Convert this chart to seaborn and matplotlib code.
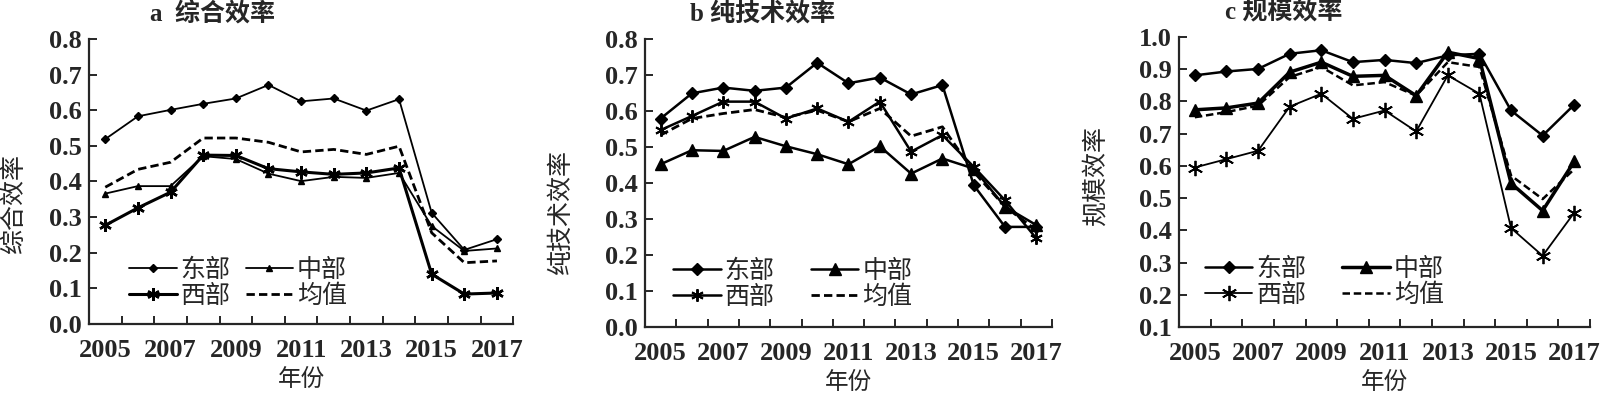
import numpy as np
import pandas as pd
import seaborn as sns
import matplotlib.pyplot as plt

years = [2005, 2006, 2007, 2008, 2009, 2010, 2011, 2012, 2013, 2014, 2015, 2016, 2017]
regions = ["东部", "中部", "西部", "均值"]

# a 综合效率
te_east = [0.519, 0.583, 0.601, 0.618, 0.633, 0.671, 0.625, 0.633, 0.599, 0.631, 0.312, 0.208, 0.238]
te_mid = [0.366, 0.387, 0.387, 0.471, 0.463, 0.422, 0.401, 0.413, 0.410, 0.424, 0.275, 0.205, 0.212]
te_west = [0.277, 0.326, 0.370, 0.474, 0.473, 0.436, 0.427, 0.420, 0.424, 0.438, 0.140, 0.084, 0.087]
te_mean = [0.384, 0.434, 0.454, 0.522, 0.522, 0.510, 0.483, 0.490, 0.476, 0.499, 0.256, 0.172, 0.177]

# b 纯技术效率
pte_east = [0.579, 0.649, 0.665, 0.656, 0.665, 0.734, 0.677, 0.693, 0.646, 0.672, 0.394, 0.278, 0.278]
pte_mid = [0.452, 0.491, 0.489, 0.528, 0.502, 0.480, 0.452, 0.502, 0.426, 0.468, 0.440, 0.334, 0.283]
pte_west = [0.547, 0.586, 0.626, 0.626, 0.579, 0.607, 0.570, 0.626, 0.487, 0.533, 0.445, 0.352, 0.246]
pte_mean = [0.533, 0.579, 0.593, 0.604, 0.582, 0.602, 0.570, 0.607, 0.530, 0.556, 0.431, 0.334, 0.269]

# c 规模效率
se_east = [0.881, 0.893, 0.901, 0.948, 0.959, 0.922, 0.929, 0.919, 0.943, 0.948, 0.772, 0.694, 0.790]
se_mid = [0.774, 0.780, 0.795, 0.891, 0.922, 0.878, 0.881, 0.818, 0.953, 0.933, 0.546, 0.461, 0.614]
se_west = [0.595, 0.621, 0.647, 0.784, 0.824, 0.746, 0.772, 0.707, 0.881, 0.824, 0.407, 0.321, 0.455]
se_mean = [0.751, 0.767, 0.787, 0.876, 0.907, 0.850, 0.860, 0.818, 0.922, 0.907, 0.570, 0.497, 0.590]

sns.set_style("ticks")
plt.rcParams["font.family"] = ["Liberation Serif", "Noto Sans CJK SC"]
plt.rcParams["axes.linewidth"] = 1.6

STAR = (6, 2, 0)
DASH = (0, (3, 1.5))

panels = [
    dict(title="a  综合效率", ylabel="综合效率", series=[te_east, te_mid, te_west, te_mean],
         rect=[0.0556, 0.1756, 0.2652, 0.7252], ylim=(0.0, 0.8), yticks=np.arange(0, 0.81, 0.1),
         styles=[dict(marker="D", ms=4, lw=1.3), dict(marker="^", ms=5, lw=1.3),
                 dict(marker=STAR, ms=9, lw=2.2, mew=1.8), dict(marker=None, lw=2.0, ls=DASH)],
         title_x=0.29, leg=(0.095, 0.23), colsp=0.6, ylab_x=-0.148, ylab_y=0.42),
    dict(title="b 纯技术效率", ylabel="纯技术效率", series=[pte_east, pte_mid, pte_west, pte_mean],
         rect=[0.4031, 0.168, 0.2544, 0.7328], ylim=(0.0, 0.8), yticks=np.arange(0, 0.81, 0.1),
         styles=[dict(marker="D", ms=6, lw=1.8), dict(marker="^", ms=9, lw=1.8),
                 dict(marker=STAR, ms=9, lw=1.8, mew=1.4), dict(marker=None, lw=2.0, ls=DASH)],
         title_x=0.29, leg=(0.07, 0.235), colsp=1.45, ylab_x=-0.177, ylab_y=0.4),
    dict(title="c 规模效率", ylabel="规模效率", series=[se_east, se_mid, se_west, se_mean],
         rect=[0.7369, 0.168, 0.2569, 0.7378], ylim=(0.1, 1.0), yticks=np.arange(0.1, 1.01, 0.1),
         styles=[dict(marker="D", ms=6, lw=1.8), dict(marker="^", ms=8, lw=2.5),
                 dict(marker=STAR, ms=11, lw=1.3, mew=1.3), dict(marker=None, lw=1.8, ls=DASH)],
         title_x=0.255, leg=(0.063, 0.24), colsp=1.45, ylab_x=-0.173, ylab_y=0.52),
]

fig = plt.figure(figsize=(16, 3.93), dpi=100)
x = np.arange(len(years))

for p in panels:
    ax = fig.add_axes(p["rect"])
    for name, vals, st in zip(regions, p["series"], p["styles"]):
        sns.lineplot(x=x, y=vals, ax=ax, color="black", label=name,
                     marker=st.get("marker"), markersize=st.get("ms", 0),
                     linewidth=st["lw"], linestyle=st.get("ls", "-"),
                     markeredgewidth=st.get("mew", 1.0), markeredgecolor="black")
    ax.set_xlim(-0.5, len(years) - 0.5)
    ax.set_ylim(*p["ylim"])
    ax.set_yticks(p["yticks"])
    ax.set_yticklabels([f"{v:.1f}" for v in p["yticks"]], fontweight="bold")
    # tick marks between categories, labels at every other year
    ax.set_xticks(np.arange(-0.5, len(years), 1.0))
    ax.set_xticklabels([])
    ax.set_xticks(x[::2], minor=True)
    ax.set_xticklabels([str(y) for y in years[::2]], minor=True, fontweight="bold")
    ax.tick_params(axis="x", which="major", direction="in", length=6, width=1.4)
    ax.tick_params(axis="x", which="minor", length=0, labelsize=19, pad=11)
    ax.tick_params(axis="y", direction="in", length=6, width=1.4, labelsize=19, pad=5)
    sns.despine(ax=ax)
    ax.set_xlabel("年份", fontsize=17, labelpad=5)
    ax.set_ylabel(p["ylabel"], fontsize=18)
    ax.yaxis.set_label_coords(p["ylab_x"], p["ylab_y"])
    ax.text(p["title_x"], 1.085, p["title"], transform=ax.transAxes, ha="center", va="center",
            fontsize=18, fontweight="bold")
    # legend filled row by row: 东部 中部 / 西部 均值
    h, l = ax.get_legend_handles_labels()
    order = [0, 2, 1, 3]
    ax.legend([h[i] for i in order], [l[i] for i in order], ncol=2, loc="upper left",
              bbox_to_anchor=p["leg"], frameon=False, fontsize=18, handlelength=1.9,
              handletextpad=0.15, columnspacing=p["colsp"], labelspacing=0.12,
              borderaxespad=0, borderpad=0)

fig.savefig("out.png", dpi=100)
